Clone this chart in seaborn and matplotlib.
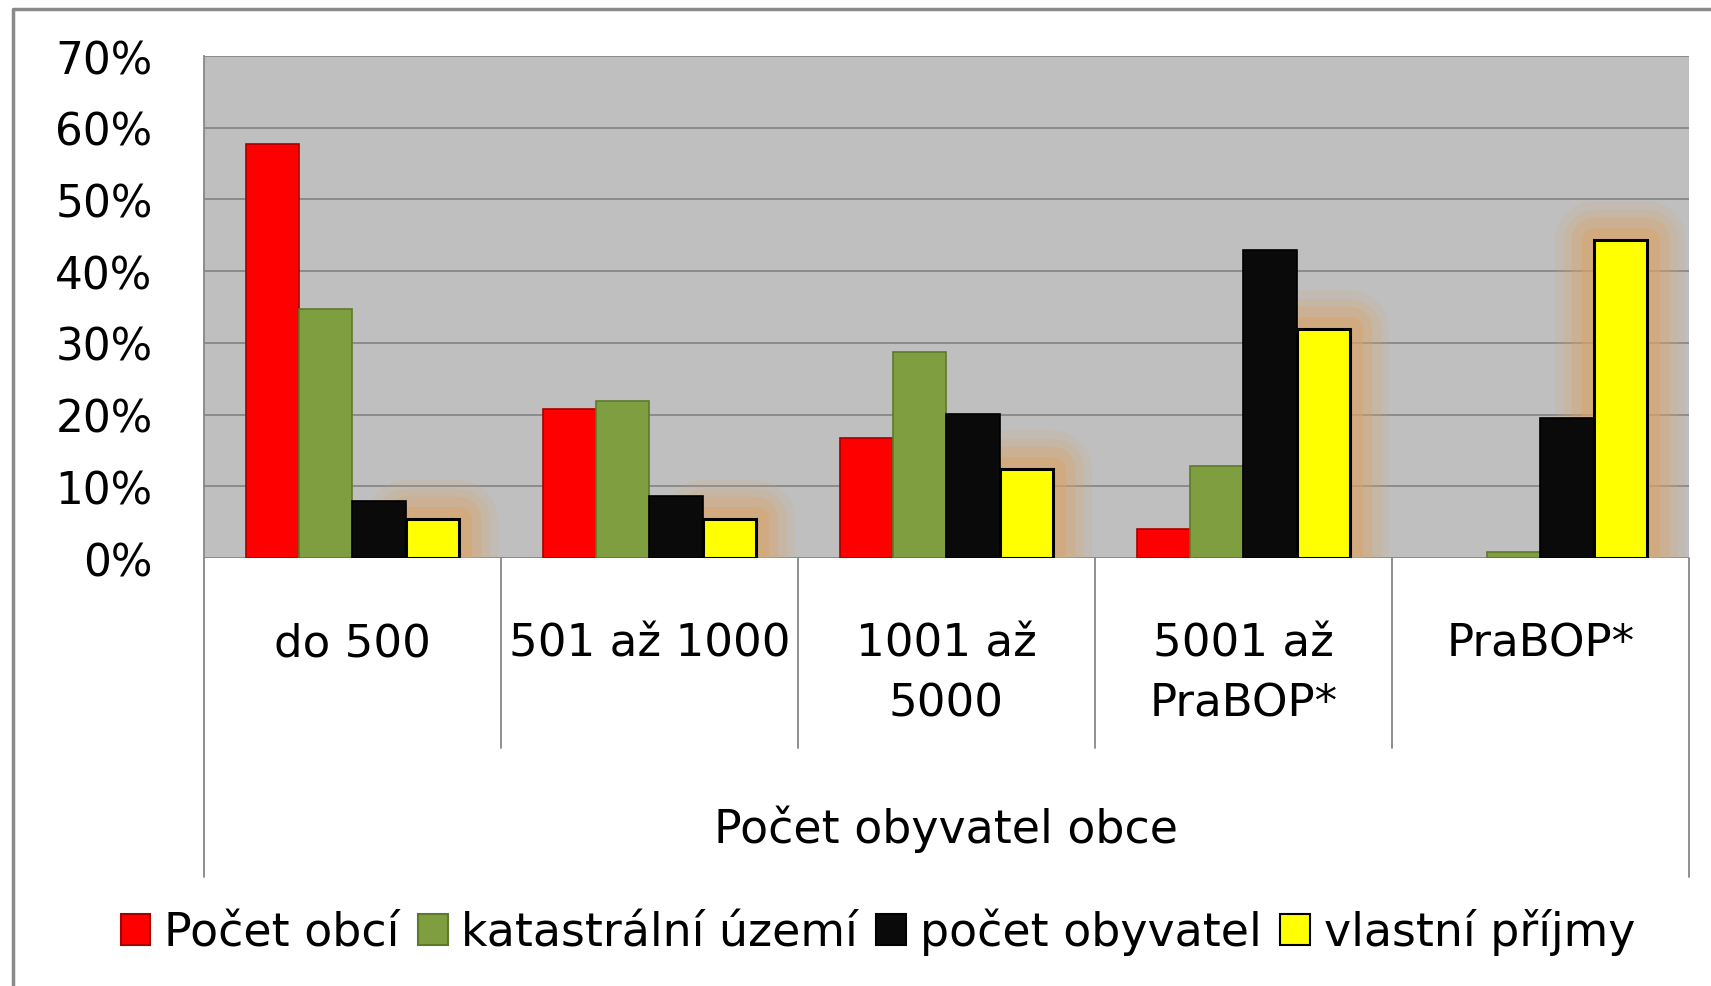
import matplotlib
matplotlib.use("Agg")
import pandas as pd
import matplotlib.pyplot as plt
import seaborn as sns
from matplotlib import patheffects as pe
from matplotlib.lines import Line2D
from matplotlib.patches import Patch
from matplotlib.transforms import blended_transform_factory

categories = ["do 500", "501 až 1000", "1001 až\n5000", "5001 až\nPraBOP*", "PraBOP*"]
series = ["Počet obcí", "katastrální území", "počet obyvatel", "vlastní příjmy"]

pocet_obci = [57.7, 20.8, 16.7, 4.0, 0.0]
katastralni_uzemi = [34.7, 21.9, 28.7, 12.8, 0.9]
pocet_obyvatel = [8.0, 8.6, 20.1, 42.9, 19.5]
vlastni_prijmy = [5.5, 5.5, 12.4, 32.0, 44.4]

yticks = [0, 10, 20, 30, 40, 50, 60, 70]
ytick_labels = ["0%", "10%", "20%", "30%", "40%", "50%", "60%", "70%"]

colors = ["#ff0000", "#7f9e3f", "#0a0a0a", "#ffff00"]
edges = ["#a80000", "#5d7a2a", "#000000", "#000000"]
grid_col = "#878787"

rows = []
for name, vals in zip(series, [pocet_obci, katastralni_uzemi, pocet_obyvatel, vlastni_prijmy]):
    for cat, v in zip(categories, vals):
        rows.append({"kategorie": cat, "podil": v, "serie": name})
df = pd.DataFrame(rows)

sns.set_style("white")
plt.rcParams["font.family"] = ["DejaVu Sans"]
plt.rcParams["text.color"] = "black"
plt.rcParams["xtick.color"] = "black"
plt.rcParams["ytick.color"] = "black"

fig = plt.figure(figsize=(17.11, 9.87), dpi=100)
ax = fig.add_axes([0.1192, 0.4336, 0.8679, 0.5086])
ax.set_facecolor("#bfbfbf")

sns.barplot(
    data=df, x="kategorie", y="podil", hue="serie",
    order=categories, hue_order=series, palette=colors,
    saturation=1, width=0.72, errorbar=None, legend=False, ax=ax
)

# soft orange glow around the yellow bars
glow = [
    pe.Stroke(linewidth=56, foreground="#d9a468", alpha=0.13, joinstyle="round"),
    pe.Stroke(linewidth=44, foreground="#d9a468", alpha=0.20, joinstyle="round"),
    pe.Stroke(linewidth=32, foreground="#d9a468", alpha=0.28, joinstyle="round"),
    pe.Stroke(linewidth=18, foreground="#d9a468", alpha=0.45, joinstyle="round"),
    pe.Normal(),
]

for i, cont in enumerate(ax.containers):
    for bar in cont:
        if bar.get_height() == 0:
            bar.set_visible(False)
        bar.set_edgecolor(edges[i])
        bar.set_linewidth(2.2 if i == 3 else 1.2)
        if i == 3:
            bar.set_zorder(1.8)
            bar.set_path_effects(glow)
        else:
            bar.set_zorder(2.5)

ax.set_xlim(-0.5, len(categories) - 0.5)
ax.set_ylim(0, 70)
ax.set_yticks(yticks)
ax.set_yticklabels(ytick_labels)
ax.yaxis.grid(True, color=grid_col, lw=1.3)
ax.set_axisbelow(True)
ax.tick_params(axis="y", length=13, width=1.3, color=grid_col, labelcolor="black",
               pad=24, labelsize=31.5)
ax.set_xticks(range(len(categories)))
ax.set_xticklabels(categories, fontsize=32.5, linespacing=1.5)
ax.tick_params(axis="x", length=0, pad=46, labelcolor="black")
ax.set_xlabel("")
ax.set_ylabel("")
for s in ["top", "right", "bottom"]:
    ax.spines[s].set_visible(False)
ax.spines["left"].set_color(grid_col)
ax.spines["left"].set_linewidth(1.3)

# category dividers below the plot
trans = blended_transform_factory(ax.transData, ax.transAxes)
n = len(categories)
for k in range(n + 1):
    b = k - 0.5
    low = -0.6355 if k in (0, n) else -0.3785
    ax.plot([b, b], [0, low], transform=trans, clip_on=False, color=grid_col, lw=1.3)

ax.text(0.5, -0.538, "Počet obyvatel obce", transform=ax.transAxes,
        ha="center", va="center", fontsize=33, color="black")

handles = [Patch(facecolor=c, edgecolor=e, linewidth=1.5) for c, e in zip(colors, edges)]
fig.legend(handles, series, loc="center", bbox_to_anchor=(0.513, 0.055), ncol=4,
           frameon=False, fontsize=33, handlelength=0.65, handleheight=0.65,
           handletextpad=0.3, columnspacing=0.4, labelcolor="black")

# outer frame
fig.add_artist(Line2D([13 / 1711, 13 / 1711, 1], [0, 1 - 10 / 987, 1 - 10 / 987],
                      transform=fig.transFigure, color="#8a8a8a", lw=2.5))

fig.savefig("out.png", dpi=100)
